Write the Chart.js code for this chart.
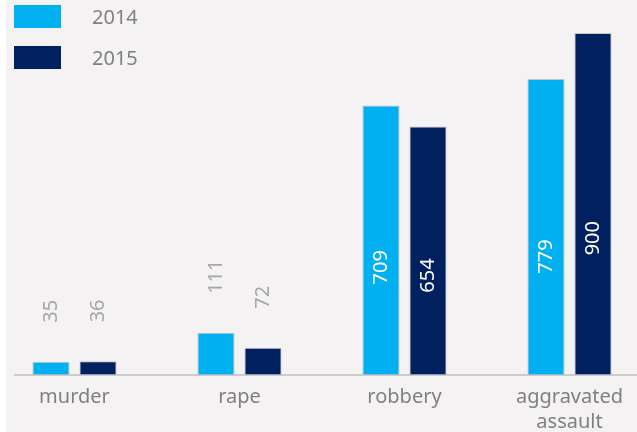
<!DOCTYPE html>
<html>
<head>
<meta charset="utf-8">
<script src="https://cdn.jsdelivr.net/npm/chart.js@4"></script>
<style>
  html, body { margin: 0; padding: 0; width: 637px; height: 432px; overflow: hidden; background: #fff; }
  #bg { position: absolute; left: 6px; top: 0; right: 0; bottom: 0; background: #F4F2F3; }
  #wrap { position: absolute; left: -8px; top: 0; width: 660px; height: 432px; }
  #legend { position: absolute; left: 14px; top: 5px; font-family: 'Noto Sans', sans-serif; font-size: 20px; color: #808080; }
  .item { display: flex; align-items: center; height: 23px; margin-bottom: 18px; }
  .swatch { width: 47px; height: 23px; margin-right: 31px; }
</style>
</head>
<body>
<div id="bg"></div>
<div id="wrap"><canvas id="crimeChart"></canvas></div>
<div id="legend"></div>
<script>
var categories = [['murder'], ['rape'], ['robbery'], ['aggravated', 'assault']];
var years = ['2014', '2015'];
var values2014 = [35, 111, 709, 779];
var values2015 = [36, 72, 654, 900];
var colors = ['#00B0F0', '#002060'];

document.addEventListener('DOMContentLoaded', function () {
    // value labels, rotated like the original
    var valueLabels = {
        id: 'valueLabels',
        afterDatasetsDraw: function (chart) {
            var ctx = chart.ctx;
            chart.data.datasets.forEach(function (ds, i) {
                chart.getDatasetMeta(i).data.forEach(function (bar, j) {
                    var h = bar.base - bar.y;
                    var inside = h > 100;
                    var y = inside ? bar.base - h * 0.4 : bar.y - 39;
                    ctx.save();
                    ctx.translate(bar.x, y);
                    ctx.rotate(-Math.PI / 2);
                    ctx.font = '20px "Noto Sans", sans-serif';
                    ctx.textBaseline = 'middle';
                    ctx.textAlign = inside ? 'center' : 'left';
                    ctx.fillStyle = inside ? '#ffffff' : '#A6A6A6';
                    ctx.fillText(String(ds.data[j]), 0, 0);
                    ctx.restore();
                });
            });
        }
    };

    // baseline starting a bit right of the left edge
    var baseline = {
        id: 'baseline',
        afterDatasetsDraw: function (chart) {
            var ctx = chart.ctx;
            var y = chart.scales.y.getPixelForValue(0);
            ctx.save();
            ctx.strokeStyle = '#BFBFBF';
            ctx.lineWidth = 1.5;
            ctx.beginPath();
            ctx.moveTo(22, y);
            ctx.lineTo(chart.width, y);
            ctx.stroke();
            ctx.restore();
        }
    };

    var ctx = document.getElementById('crimeChart').getContext('2d');
    var crimeChart = new Chart(ctx, {
        type: 'bar',
        data: {
            labels: categories,
            datasets: [{
                label: years[0],
                data: values2014,
                backgroundColor: colors[0],
                borderColor: 'rgba(140,140,140,0.45)',
                borderWidth: { top: 1, left: 1, right: 1, bottom: 0 },
                categoryPercentage: 0.57,
                barPercentage: 0.79
            }, {
                label: years[1],
                data: values2015,
                backgroundColor: colors[1],
                borderColor: 'rgba(140,140,140,0.45)',
                borderWidth: { top: 1, left: 1, right: 1, bottom: 0 },
                categoryPercentage: 0.57,
                barPercentage: 0.79
            }]
        },
        options: {
            responsive: true,
            maintainAspectRatio: false,
            animation: false,
            layout: { padding: { top: 33, left: 0, right: 0, bottom: 0 } },
            plugins: {
                legend: { display: false },
                tooltip: { enabled: false }
            },
            scales: {
                x: {
                    grid: { display: false },
                    border: { display: false },
                    ticks: {
                        color: '#808080',
                        font: { family: 'Noto Sans', size: 20, lineHeight: 1.25 },
                        padding: 2,
                        maxRotation: 0,
                        autoSkip: false
                    },
                    afterFit: function (scale) { scale.height = 57; }
                },
                y: {
                    display: false,
                    min: 0,
                    max: 900
                }
            }
        },
        plugins: [valueLabels, baseline]
    });

    var legend = document.getElementById('legend');
    crimeChart.data.datasets.forEach(function (ds) {
        var item = document.createElement('div');
        item.className = 'item';
        var sw = document.createElement('span');
        sw.className = 'swatch';
        sw.style.background = ds.backgroundColor;
        var txt = document.createElement('span');
        txt.textContent = ds.label;
        item.appendChild(sw);
        item.appendChild(txt);
        legend.appendChild(item);
    });
});
</script>
</body>
</html>
